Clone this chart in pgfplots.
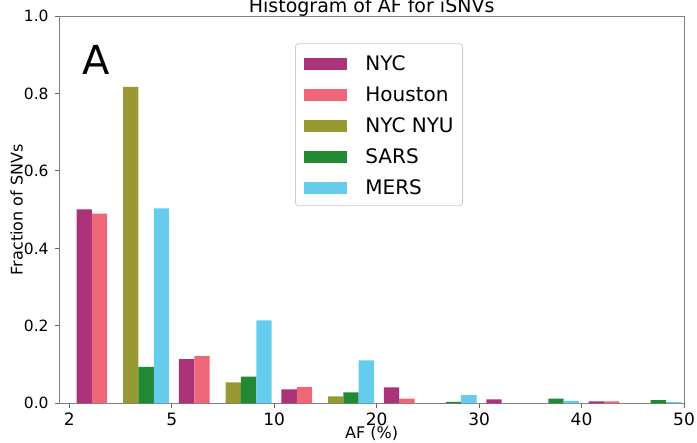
\documentclass[border=0pt]{standalone}
\usepackage{fontspec}
\setmainfont{DejaVu Sans}
\usepackage{pgfplots}
\pgfplotsset{compat=1.18}
\definecolor{cNYC}{HTML}{AA3377}
\definecolor{cHOU}{HTML}{EE6677}
\definecolor{cNYU}{HTML}{999933}
\definecolor{cSARS}{HTML}{228833}
\definecolor{cMERS}{HTML}{66CCEE}
\begin{document}
\begin{tikzpicture}
\begin{axis}[
  width=624.7pt, height=387.3pt, scale only axis,
  xmin=-0.098, xmax=6, ymin=0, ymax=1,
  xtick={0,1,2,3,4,5,6}, xticklabels={2,5,10,20,30,40,50},
  ytick={0,0.2,0.4,0.6,0.8,1.0},
  yticklabel={\pgfmathprintnumber[fixed,fixed zerofill,precision=1,assume math mode=true]{\tick}},
  tick align=outside, xtick pos=bottom, ytick pos=left,
  major tick length=4.5pt,
  every tick/.style={black!60, line width=0.9pt},
  axis line style={draw=black!50, line width=0.9pt},
  xticklabel style={font=\fontsize{17}{17}\selectfont, anchor=north, inner sep=0pt, yshift=-5pt},
  yticklabel style={font=\fontsize{15.5}{16}\selectfont, anchor=east, inner sep=0pt, xshift=-6pt},
  title={Histogram of AF for iSNVs},
  every axis title/.style={at={(rel axis cs:0.5,1)}, anchor=base, yshift=3.5pt, font=\fontsize{19}{19}\selectfont},
  xlabel={AF (\%)},
  every axis x label/.style={at={(rel axis cs:0.5,0)}, anchor=base, yshift=-35.5pt, inner sep=0pt, font=\fontsize{16}{16}\selectfont},
  ylabel={Fraction of SNVs},
  every axis y label/.style={at={(rel axis cs:0,0.5)}, anchor=base, xshift=-36.6pt, rotate=90, inner sep=0pt, font=\fontsize{16}{16}\selectfont},
  legend image code/.code={\fill[#1, sharp corners] (0pt,-7pt) rectangle (43pt,5pt);},
  legend style={at={(rel axis cs:0.3773,0.9295)}, anchor=north west,
    draw=black!20, rounded corners=3pt, line width=0.8pt,
    inner xsep=9pt, inner ysep=11.5pt, row sep=16pt,
    font=\fontsize{20}{20}\selectfont,
    nodes={inner sep=0pt, text height=15pt, text depth=0pt},
    /tikz/every odd column/.append style={column sep=18pt}},
  legend cell align=left,
]
\addplot[ybar, bar width=0.15, bar shift=0pt, fill=cNYC, draw=none]
  coordinates {(0.145,0.501) (1.145,0.114) (2.145,0.036) (3.145,0.041) (4.145,0.010) (5.145,0.005)};
\addlegendentry{NYC}
\addplot[ybar, bar width=0.15, bar shift=0pt, fill=cHOU, draw=none]
  coordinates {(0.295,0.490) (1.295,0.122) (2.295,0.042) (3.295,0.012) (5.295,0.005)};
\addlegendentry{Houston}
\addplot[ybar, bar width=0.15, bar shift=0pt, fill=cNYU, draw=none]
  coordinates {(0.600,0.817) (1.600,0.054) (2.600,0.018)};
\addlegendentry{NYC NYU}
\addplot[ybar, bar width=0.15, bar shift=0pt, fill=cSARS, draw=none]
  coordinates {(0.750,0.094) (1.750,0.069) (2.750,0.028) (3.750,0.004) (4.750,0.012) (5.750,0.0085)};
\addlegendentry{SARS}
\addplot[ybar, bar width=0.15, bar shift=0pt, fill=cMERS, draw=none]
  coordinates {(0.900,0.503) (1.900,0.214) (2.900,0.111) (3.900,0.021) (4.900,0.006) (5.900,0.003)};
\addlegendentry{MERS}
\node[anchor=base west, inner sep=0pt, font=\fontsize{40}{40}\selectfont] at (rel axis cs:0.0375,0.850) {A};
\coordinate (BL) at (rel axis cs:0,0);
\coordinate (TR) at (rel axis cs:1,1);
\end{axis}
\pgfresetboundingbox
\path[use as bounding box] ([shift={(-59.3pt,-38.7pt)}]BL) rectangle ([shift={(13pt,16pt)}]TR);
\end{tikzpicture}
\end{document}
